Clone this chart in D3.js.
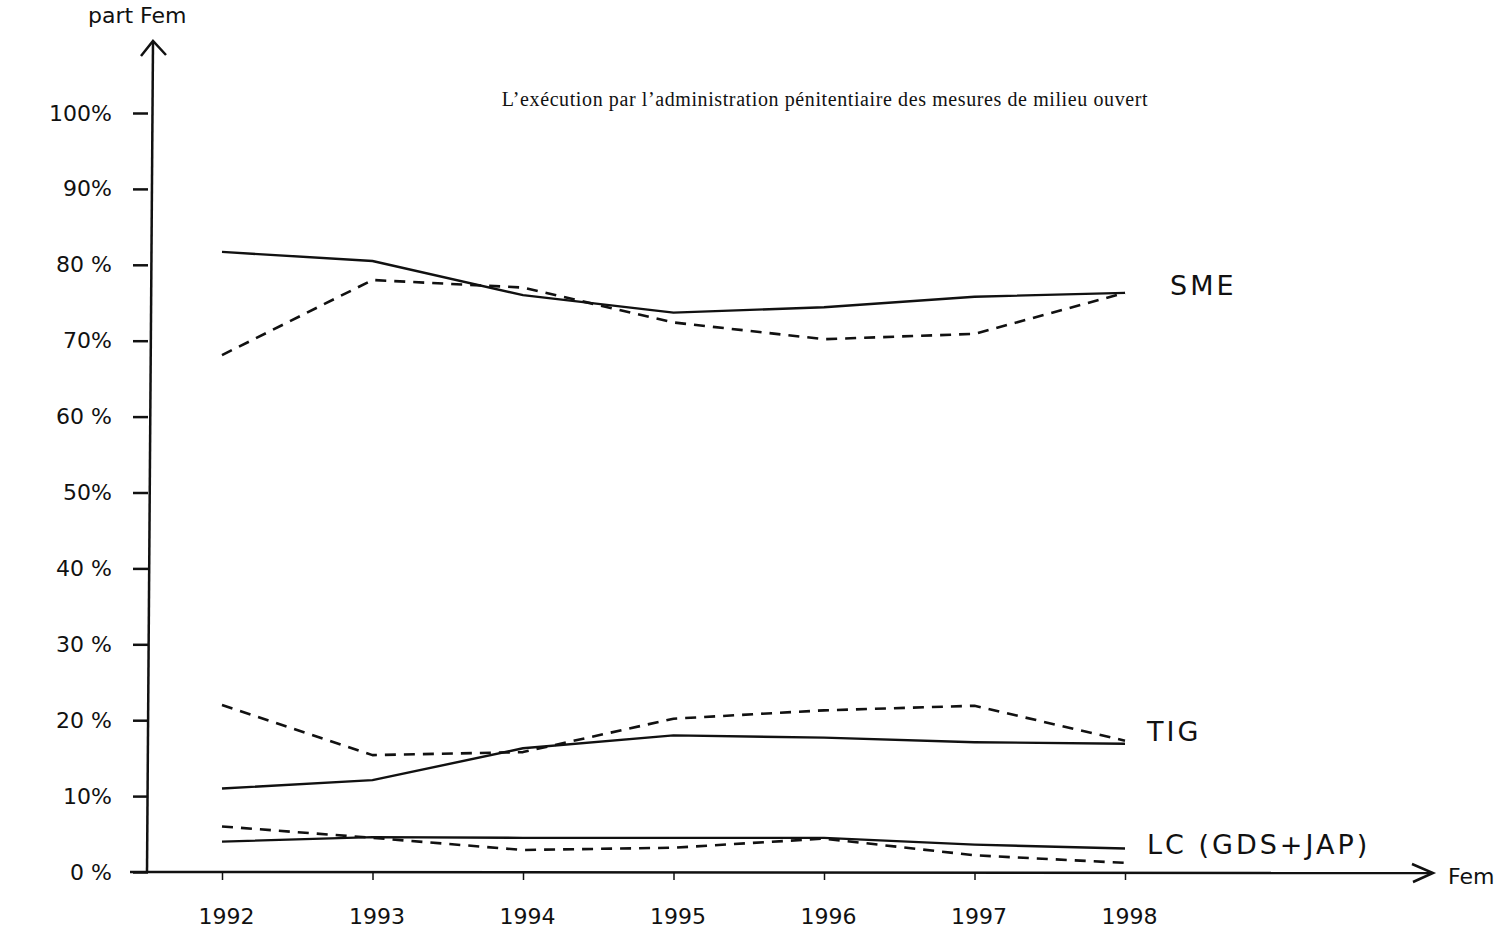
<!DOCTYPE html>
<html>
<head>
<meta charset="utf-8">
<script src="https://cdn.jsdelivr.net/npm/d3@7"></script>
<style>
  body { margin: 0; background: #fff; }
  .hand { font-family: "DejaVu Sans", sans-serif; fill: #111; }
  .title { font-family: "Liberation Serif", "Times New Roman", serif; font-size: 20px; letter-spacing: 0.6px; fill: #111; }
</style>
</head>
<body>
<div id="chart"></div>
<script>
var years = [1992, 1993, 1994, 1995, 1996, 1997, 1998];
var yTicks = [0, 10, 20, 30, 40, 50, 60, 70, 80, 90, 100];
var yTickLabels = ["0 %", "10%", "20 %", "30 %", "40 %", "50%", "60 %", "70%", "80 %", "90%", "100%"];
// solid and dashed line for each measure
var smeSolid = [81.7, 80.5, 76.0, 73.7, 74.4, 75.8, 76.3];
var smeDashed = [68.1, 78.0, 77.0, 72.4, 70.2, 70.9, 76.3];
var tigSolid = [11.0, 12.1, 16.3, 18.0, 17.7, 17.1, 16.9];
var tigDashed = [22.0, 15.4, 15.8, 20.2, 21.3, 21.9, 17.3];
var lcSolid = [4.0, 4.6, 4.5, 4.5, 4.5, 3.6, 3.1];
var lcDashed = [6.0, 4.5, 2.9, 3.2, 4.4, 2.2, 1.2];
var seriesNames = ["SME", "TIG", "LC (GDS+JAP)"];

var width = 1512, height = 945;
var x = d3.scaleLinear().domain([1992, 1998]).range([222, 1125]);
var y = d3.scaleLinear().domain([0, 100]).range([872, 113]);

var svg = d3.select("#chart").append("svg").attr("width", width).attr("height", height);

svg.append("text").attr("class", "title").attr("x", 825).attr("y", 106)
  .attr("text-anchor", "middle")
  .text("L\u2019ex\u00e9cution par l\u2019administration p\u00e9nitentiaire des mesures de milieu ouvert");

// axes, hand drawn style
var ink = "#111";
svg.append("line").attr("x1", 147).attr("y1", y(0)).attr("x2", 153).attr("y2", 42)
  .attr("stroke", ink).attr("stroke-width", 2.5);
svg.append("path").attr("d", "M141,56 L153,41 L166,55").attr("fill", "none")
  .attr("stroke", ink).attr("stroke-width", 2.5);
svg.append("line").attr("x1", 130).attr("y1", y(0)).attr("x2", 1432).attr("y2", y(0) + 1)
  .attr("stroke", ink).attr("stroke-width", 2.5);
svg.append("path").attr("d", "M1412,864 L1433,873 L1413,882").attr("fill", "none")
  .attr("stroke", ink).attr("stroke-width", 2.5);

var yAxis = d3.axisLeft(y).tickValues(yTicks).tickSize(15)
  .tickFormat(function(d, i) { return yTickLabels[i]; });
var gy = svg.append("g").attr("transform", "translate(148,0)").call(yAxis);
gy.select(".domain").remove();
gy.selectAll(".tick line").attr("stroke", ink).attr("stroke-width", 2.5);
gy.selectAll(".tick text").attr("class", "hand").attr("x", -36)
  .style("font-size", "22px").style("font-family", "DejaVu Sans, sans-serif")
  .attr("fill", ink);

var xAxis = d3.axisBottom(x).tickValues(years).tickSize(8).tickFormat(d3.format("d"));
var gx = svg.append("g").attr("transform", "translate(0," + y(0) + ")").call(xAxis);
gx.select(".domain").remove();
gx.selectAll(".tick line").attr("stroke", ink).attr("stroke-width", 1.5);
gx.selectAll(".tick text").attr("y", 36).attr("dx", 4)
  .style("font-size", "22px").style("font-family", "DejaVu Sans, sans-serif")
  .attr("fill", ink);

// lines
var line = d3.line().x(function(d, i) { return x(years[i]); })
  .y(function(d) { return y(d); });
var lines = [
  { v: smeSolid, dash: null }, { v: smeDashed, dash: "11,8" },
  { v: tigSolid, dash: null }, { v: tigDashed, dash: "11,8" },
  { v: lcSolid, dash: null }, { v: lcDashed, dash: "11,8" }
];
svg.selectAll(".series").data(lines).enter().append("path")
  .attr("class", "series")
  .attr("d", function(d) { return line(d.v); })
  .attr("fill", "none").attr("stroke", ink)
  .attr("stroke-width", function(d) { return d.dash ? 2.6 : 2.4; })
  .attr("stroke-linejoin", "round")
  .attr("stroke-dasharray", function(d) { return d.dash; });

// series labels next to the last point
var labelData = [
  { name: seriesNames[0], v: smeSolid[6], dx: 45, dy: -5 },
  { name: seriesNames[1], v: tigSolid[6], dx: 22, dy: -10 },
  { name: seriesNames[2], v: lcSolid[6], dx: 22, dy: -2 }
];
svg.selectAll(".slabel").data(labelData).enter().append("text")
  .attr("class", "hand slabel")
  .attr("x", function(d) { return x(1998) + d.dx; })
  .attr("y", function(d) { return y(d.v) + d.dy; })
  .attr("dominant-baseline", "middle")
  .style("font-size", "27px").style("letter-spacing", "3px")
  .text(function(d) { return d.name; });

// axis captions
svg.append("text").attr("class", "hand").attr("x", 88).attr("y", 23)
  .style("font-size", "22px").text("part Fem");
svg.append("text").attr("class", "hand").attr("x", 1448).attr("y", 884)
  .style("font-size", "22px").text("Fem");
</script>
</body>
</html>
